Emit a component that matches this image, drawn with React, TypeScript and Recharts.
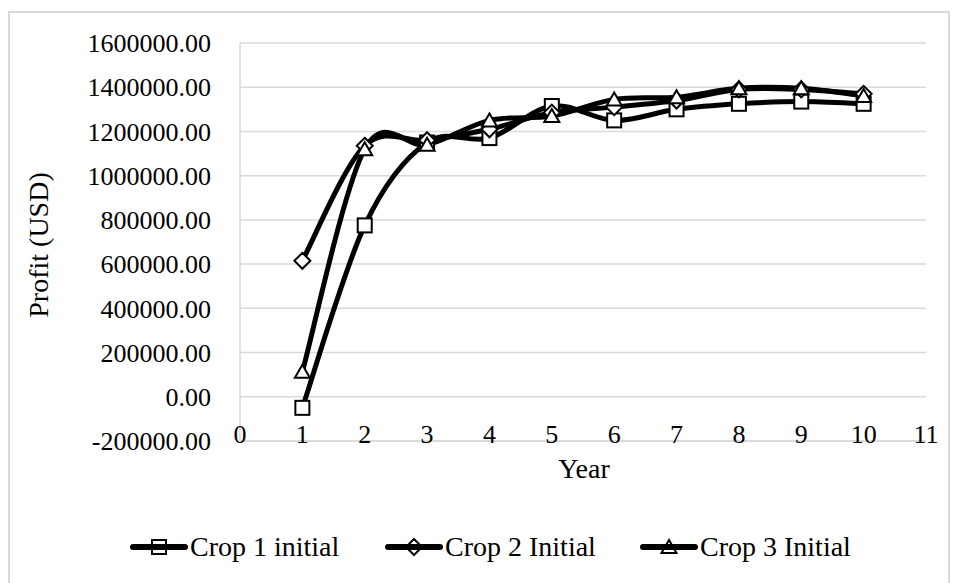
import React from "react";
import { CartesianGrid, Line, LineChart, XAxis, YAxis } from "recharts";

const years = [1, 2, 3, 4, 5, 6, 7, 8, 9, 10];
const crop1 = [-50000, 775000, 1150000, 1170000, 1315000, 1250000, 1300000, 1325000, 1335000, 1325000];
const crop2 = [615000, 1135000, 1160000, 1210000, 1285000, 1310000, 1340000, 1390000, 1390000, 1370000];
const crop3 = [113000, 1120000, 1140000, 1250000, 1270000, 1345000, 1355000, 1395000, 1395000, 1360000];

const xTicks = [0, 1, 2, 3, 4, 5, 6, 7, 8, 9, 10, 11];
const yTicks = [-200000, 0, 200000, 400000, 600000, 800000, 1000000, 1200000, 1400000, 1600000];

const seriesKeys = ["crop1", "crop2", "crop3"];
const seriesNames = ["Crop 1 initial", "Crop 2 Initial", "Crop 3 Initial"];
const seriesShapes = ["square", "diamond", "triangle"];

const data = years.map((year, i) => ({
  year,
  crop1: crop1[i],
  crop2: crop2[i],
  crop3: crop3[i],
}));

const font = "'Liberation Serif', 'Times New Roman', serif";
const grid = "#d9d9d9";

// Excel-like smoothed line (Catmull-Rom as cubic beziers)
const excelSmooth = (context: any) => {
  let pts: number[][] = [];
  return {
    areaStart() {},
    areaEnd() {},
    lineStart() {
      pts = [];
    },
    point(x: number, y: number) {
      pts.push([+x, +y]);
    },
    lineEnd() {
      if (!pts.length) return;
      context.moveTo(pts[0][0], pts[0][1]);
      if (pts.length === 1) {
        context.lineTo(pts[0][0], pts[0][1]);
        return;
      }
      for (let i = 0; i < pts.length - 1; i++) {
        const p0 = pts[i - 1] || pts[i];
        const p1 = pts[i];
        const p2 = pts[i + 1];
        const p3 = pts[i + 2] || p2;
        context.bezierCurveTo(
          p1[0] + (p2[0] - p0[0]) / 6,
          p1[1] + (p2[1] - p0[1]) / 6,
          p2[0] - (p3[0] - p1[0]) / 6,
          p2[1] - (p3[1] - p1[1]) / 6,
          p2[0],
          p2[1]
        );
      }
    },
  };
};

const Marker = ({ shape, cx, cy }: { shape: string; cx: number; cy: number }) => {
  const common = { fill: "#fff", stroke: "#000", strokeWidth: 2 };
  if (shape === "square") {
    return <rect x={cx - 7} y={cy - 7} width={14} height={14} {...common} />;
  }
  if (shape === "diamond") {
    return <polygon points={`${cx},${cy - 8} ${cx + 8},${cy} ${cx},${cy + 8} ${cx - 8},${cy}`} {...common} />;
  }
  return <polygon points={`${cx},${cy - 7} ${cx + 7.5},${cy + 6} ${cx - 7.5},${cy + 6}`} {...common} />;
};

const legendX = [130, 385, 640];

const App = () => {
  return (
    <div style={{ position: "absolute", left: 0, top: 0, width: 956, height: 583, background: "#fff", overflow: "hidden" }}>
      <div
        style={{
          position: "absolute",
          left: 8,
          top: 11,
          width: 938,
          height: 640,
          border: `2px solid ${grid}`,
        }}
      />
      <div style={{ position: "absolute", left: 0, top: 0 }}>
        <LineChart width={956} height={583} data={data} margin={{ top: 43, right: 30, left: 0, bottom: 112 }}>
          <CartesianGrid vertical={false} stroke={grid} strokeWidth={1.5} />
          <XAxis
            type="number"
            dataKey="year"
            domain={[0, 11]}
            ticks={xTicks}
            height={30}
            tickLine={false}
            axisLine={{ stroke: grid, strokeWidth: 1.5 }}
            tick={({ x, payload }: any) => (
              <text x={x} y={443} textAnchor="middle" fill="#000" fontSize={26} fontFamily={font}>
                {payload.value}
              </text>
            )}
            label={{
              content: () => (
                <text x={584} y={478} textAnchor="middle" fill="#000" fontSize={28} fontFamily={font}>
                  Year
                </text>
              ),
            }}
          />
          <YAxis
            width={240}
            domain={[-200000, 1600000]}
            ticks={yTicks}
            tickLine={false}
            tickMargin={23}
            axisLine={{ stroke: grid, strokeWidth: 1.5 }}
            tick={{ fill: "#000", fontSize: 26, fontFamily: font }}
            tickFormatter={(v: number) => v.toFixed(2)}
            label={{
              content: () => (
                <text
                  x={38}
                  y={245}
                  transform="rotate(-90 38 245)"
                  textAnchor="middle"
                  dominantBaseline="central"
                  fill="#000"
                  fontSize={28}
                  fontFamily={font}
                >
                  Profit (USD)
                </text>
              ),
            }}
          />
          {seriesKeys.map((key, s) => (
            <Line
              key={`m-${key}`}
              dataKey={key}
              stroke="none"
              isAnimationActive={false}
              activeDot={false}
              dot={(p: any) => <Marker key={`${key}-${p.index}`} shape={seriesShapes[s]} cx={p.cx} cy={p.cy} />}
            />
          ))}
          {seriesKeys.map((key) => (
            <Line
              key={`l-${key}`}
              dataKey={key}
              type={excelSmooth as any}
              stroke="#000"
              strokeWidth={5}
              strokeLinecap="round"
              strokeLinejoin="round"
              dot={false}
              activeDot={false}
              isAnimationActive={false}
            />
          ))}
        </LineChart>
      </div>
      {seriesNames.map((name, s) => (
        <div
          key={name}
          style={{
            position: "absolute",
            left: legendX[s],
            top: 530,
            height: 34,
            display: "flex",
            alignItems: "center",
            fontFamily: font,
            fontSize: 28,
            color: "#000",
            whiteSpace: "nowrap",
          }}
        >
          <svg width={60} height={34} style={{ display: "block" }}>
            <Marker shape={seriesShapes[s]} cx={29} cy={17} />
            <line x1={3} y1={17} x2={55} y2={17} stroke="#000" strokeWidth={6} strokeLinecap="round" />
          </svg>
          <span>{name}</span>
        </div>
      ))}
    </div>
  );
};

export default App;
